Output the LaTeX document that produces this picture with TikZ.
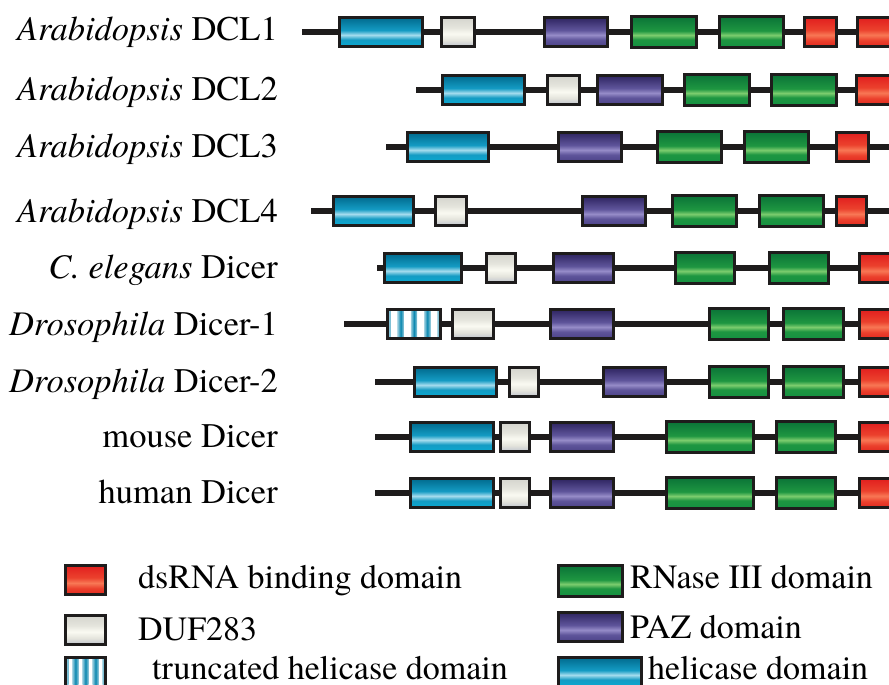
\documentclass[tikz,border=0pt]{standalone}
\usepackage{fontspec}
\setmainfont{texgyretermes}[Extension=.otf, UprightFont=*-regular, ItalicFont=*-italic, BoldFont=*-bold, BoldItalicFont=*-bolditalic]
\definecolor{ink}{RGB}{30,28,28}
\definecolor{cyB}{RGB}{10,170,210}
\definecolor{cyM}{RGB}{20,155,195}
\definecolor{cyL}{RGB}{165,220,238}
\definecolor{cyT}{RGB}{0,105,140}
\definecolor{puB}{RGB}{75,65,135}
\definecolor{puM}{RGB}{95,85,155}
\definecolor{puL}{RGB}{150,140,200}
\definecolor{puT}{RGB}{45,35,95}
\definecolor{grB}{RGB}{20,145,65}
\definecolor{grM}{RGB}{30,150,65}
\definecolor{grL}{RGB}{125,205,110}
\definecolor{grT}{RGB}{10,115,55}
\definecolor{reB}{RGB}{225,40,30}
\definecolor{reM}{RGB}{235,65,45}
\definecolor{reL}{RGB}{248,120,85}
\definecolor{reT}{RGB}{225,30,30}
\definecolor{gyB}{RGB}{190,195,205}
\definecolor{gyM}{RGB}{228,228,220}
\definecolor{gyL}{RGB}{250,250,242}
\definecolor{gyT}{RGB}{212,212,205}
\definecolor{stC}{RGB}{10,135,175}
\pgfdeclareverticalshading{cyanbar}{100bp}{color(0bp)=(cyB); color(25bp)=(cyB); color(37bp)=(cyM); color(45bp)=(cyL); color(53bp)=(cyM); color(75bp)=(cyT); color(100bp)=(cyT)}
\pgfdeclareverticalshading{purplebar}{100bp}{color(0bp)=(puB); color(25bp)=(puB); color(37bp)=(puM); color(45bp)=(puL); color(53bp)=(puM); color(75bp)=(puT); color(100bp)=(puT)}
\pgfdeclareverticalshading{greenbar}{100bp}{color(0bp)=(grB); color(25bp)=(grB); color(38bp)=(grM); color(45bp)=(grL); color(52bp)=(grM); color(75bp)=(grT); color(100bp)=(grT)}
\pgfdeclareverticalshading{redbar}{100bp}{color(0bp)=(reB); color(25bp)=(reB); color(36bp)=(reM); color(45bp)=(reL); color(54bp)=(reM); color(75bp)=(reT); color(100bp)=(reT)}
\pgfdeclareverticalshading{greybar}{100bp}{color(0bp)=(gyB); color(25bp)=(gyB); color(36bp)=(gyM); color(47bp)=(gyL); color(58bp)=(gyM); color(75bp)=(gyT); color(100bp)=(gyT)}
\newcommand\dom[5]{%
  \pgfmathsetmacro\domw{#4-#3-2.8}%
  \pgfmathsetmacro\domx{(#3+#4)/2}%
  \node[#2, minimum width=\domw pt] (#1) at (\domx,#5) {};}
% truncated helicase box: white with five cyan bars
\newcommand\trunc[4]{%
  \pgfmathsetmacro\domw{#3-#2-2.8}%
  \pgfmathsetmacro\domx{(#2+#3)/2}%
  \pgfmathsetmacro\trp{(#3-#2-2.8)/4}%
  \node[trh, minimum width=\domw pt, path picture={
    \foreach \k in {0,...,4}{
      \pgfmathsetmacro\bl{\k*\trp-3.2}
      \pgfmathsetmacro\br{\k*\trp+3.2}
      \path[left color=stC!40!white, right color=stC!40!white, middle color=stC]
        ([xshift=\bl pt]path picture bounding box.south west) rectangle
        ([xshift=\br pt]path picture bounding box.north west);}
  }] (#1) at (\domx,#4) {};}
\tikzset{
  box/.style={draw=ink, line width=2.9pt, inner sep=0pt, outer sep=0pt, minimum height=29.5pt, shade},
  hel/.style={box, shading=cyanbar},
  paz/.style={box, shading=purplebar},
  rn/.style={box, shading=greenbar, minimum height=31pt},
  ds/.style={box, shading=redbar},
  duf/.style={box, shading=greybar},
  trh/.style={draw=ink, line width=2.9pt, inner sep=0pt, outer sep=0pt, minimum height=29.5pt, fill=white},
  backbone/.style={draw=ink, line width=6.5pt},
  lab/.style={font=\fontsize{34.5}{37}\selectfont, inner sep=0pt, anchor=base east},
  leg/.style={font=\fontsize{34}{37}\selectfont, inner sep=0pt, anchor=base west}
}
\begin{document}
\begin{tikzpicture}[x=1pt,y=-1pt]
\clip (0,0) rectangle (889,685);
\fill[white] (0,0) rectangle (889,685);
% labels
\node[lab] (l1) at (278,41) {\textit{Arabidopsis} DCL1};
\node[lab] (l2) at (278,100) {\textit{Arabidopsis} DCL2};
\node[lab] (l3) at (278,157) {\textit{Arabidopsis} DCL3};
\node[lab] (l4) at (278,222) {\textit{Arabidopsis} DCL4};
\node[lab] (l5) at (278,278) {\textit{C. elegans} Dicer};
\node[lab] (l6) at (278,335) {\textit{Drosophila} Dicer-1};
\node[lab] (l7) at (278,392) {\textit{Drosophila} Dicer-2};
\node[lab] (l8) at (278,447) {mouse Dicer};
\node[lab] (l9) at (278,503) {human Dicer};
% backbones
\coordinate (s1) at (302,32); \coordinate (e1) at (895,32);
\coordinate (s2) at (416,90); \coordinate (e2) at (895,90);
\coordinate (s3) at (386,147); \coordinate (e3) at (895,147);
\coordinate (s4) at (311,211); \coordinate (e4) at (895,211);
\coordinate (s5) at (377,268); \coordinate (e5) at (895,268);
\coordinate (s6) at (344,324); \coordinate (e6) at (895,324);
\coordinate (s7) at (375,382); \coordinate (e7) at (895,382);
\coordinate (s8) at (375,437); \coordinate (e8) at (895,437);
\coordinate (s9) at (375,493); \coordinate (e9) at (895,493);
\foreach \i in {1,...,9} {\draw[backbone] (s\i) -- (e\i);}
% row 1
\dom{a1}{hel}{338}{424}{32}
\dom{b1}{duf}{440}{476}{32}
\dom{c1}{paz}{543}{609}{32}
\dom{d1}{rn}{630}{698}{32}
\dom{f1}{rn}{718}{785}{32}
\dom{g1}{ds}{803}{838}{32}
\dom{h1}{ds}{856}{900}{32}
% row 2
\dom{a2}{hel}{441}{526}{90}
\dom{b2}{duf}{546}{581}{90}
\dom{c2}{paz}{596}{664}{90}
\dom{d2}{rn}{683}{751}{90}
\dom{f2}{rn}{770}{838}{90}
\dom{g2}{ds}{855}{900}{90}
% row 3
\dom{a3}{hel}{406}{490}{147}
\dom{c3}{paz}{557}{623}{147}
\dom{d3}{rn}{656}{723}{147}
\dom{f3}{rn}{743}{810}{147}
\dom{g3}{ds}{835}{870}{147}
% row 4
\dom{a4}{hel}{332}{415}{211}
\dom{b4}{duf}{434}{468}{211}
\dom{c4}{paz}{581}{647}{211}
\dom{d4}{rn}{671}{738}{211}
\dom{f4}{rn}{758}{825}{211}
\dom{g4}{ds}{835}{868}{211}
% row 5
\dom{a5}{hel}{383}{463}{268}
\dom{b5}{duf}{485}{517}{268}
\dom{c5}{paz}{552}{615}{268}
\dom{d5}{rn}{674}{736}{268}
\dom{f5}{rn}{768}{830}{268}
\dom{g5}{ds}{858}{900}{268}
% row 6
\trunc{a6}{386}{442}{324}
\dom{b6}{duf}{451}{495}{324}
\dom{c6}{paz}{549}{615}{324}
\dom{d6}{rn}{708}{770}{324}
\dom{f6}{rn}{782}{845}{324}
\dom{g6}{ds}{858}{900}{324}
% row 7
\dom{a7}{hel}{413}{498}{382}
\dom{b7}{duf}{508}{540}{382}
\dom{c7}{paz}{602}{667}{382}
\dom{d7}{rn}{708}{770}{382}
\dom{f7}{rn}{782}{845}{382}
\dom{g7}{ds}{858}{900}{382}
% row 8
\dom{a8}{hel}{409}{495}{437}
\dom{b8}{duf}{499}{531}{437}
\dom{c8}{paz}{549}{615}{437}
\dom{d8}{rn}{665}{755}{437}
\dom{f8}{rn}{775}{837}{437}
\dom{g8}{ds}{858}{900}{437}
% row 9
\dom{a9}{hel}{409}{495}{493}
\dom{b9}{duf}{499}{531}{493}
\dom{c9}{paz}{549}{615}{493}
\dom{d9}{rn}{665}{755}{493}
\dom{f9}{rn}{775}{837}{493}
\dom{g9}{ds}{858}{900}{493}
% legend
\dom{kds}{ds}{64}{107}{580}
\node[leg] (tds) at (138,588) {dsRNA binding domain};
\dom{kduf}{duf}{64}{107}{630}
\node[leg] (tduf) at (138,640) {DUF283};
\trunc{ktr}{64}{107}{672}
\node[leg] (ttr) at (152,679) {truncated helicase domain};
\dom{krn}{rn}{557}{624}{581}
\node[leg] (trn) at (630,588) {RNase III domain};
\dom{kpaz}{paz}{557}{624}{627}
\node[leg] (tpaz) at (630,638) {PAZ domain};
\dom{khel}{hel}{557}{643}{672}
\node[leg] (thel) at (648,679) {helicase domain};
\end{tikzpicture}
\end{document}
